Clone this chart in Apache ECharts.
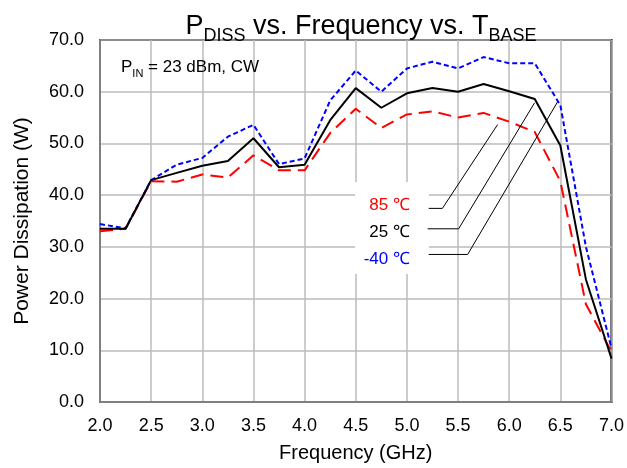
<!DOCTYPE html>
<html>
<head>
<meta charset="utf-8">
<script src="https://cdn.jsdelivr.net/npm/echarts@6/dist/echarts.min.js"></script>
<style>html,body{margin:0;padding:0;background:#fff}#c{width:627px;height:468px}</style>
</head>
<body>
<div id="c"></div>
<script>
// Frequency (GHz)
const freqs = [2.0, 2.25, 2.5, 2.75, 3.0, 3.25, 3.5, 3.75, 4.0, 4.25, 4.5, 4.75, 5.0, 5.25, 5.5, 5.75, 6.0, 6.25, 6.5, 6.75, 7.0];
// Power dissipation (W) per base temperature
const p85 = [33.0, 33.5, 42.7, 42.6, 44.0, 43.4, 47.7, 44.8, 44.8, 52.0, 56.7, 53.0, 55.6, 56.2, 55.0, 55.9, 54.2, 52.2, 42.7, 18.9, 9.7];
const p25 = [33.5, 33.5, 42.9, 44.3, 45.7, 46.6, 51.0, 45.4, 45.9, 54.5, 60.7, 56.9, 59.7, 60.7, 60.0, 61.5, 60.1, 58.6, 49.6, 23.7, 8.4];
const pm40 = [34.4, 33.6, 42.9, 45.9, 47.2, 51.3, 53.6, 46.0, 47.1, 58.3, 64.1, 60.0, 64.5, 65.8, 64.5, 66.7, 65.5, 65.5, 57.4, 30.0, 10.4];
const seriesNames = ['85 ℃', '25 ℃', '-40 ℃'];
const yTicks = [0, 10, 20, 30, 40, 50, 60, 70];
const xTicks = [2.0, 2.5, 3.0, 3.5, 4.0, 4.5, 5.0, 5.5, 6.0, 6.5, 7.0];

// annotation leader lines (data coordinates)
const leaders = [
  [[5.213, 37.44], [5.347, 37.44], [5.887, 53.65]],
  [[5.203, 33.49], [5.506, 33.49], [6.248, 57.85]],
  [[5.213, 28.53], [5.594, 28.53], [6.473, 58.04]]
];

const pairs = arr => freqs.map((f, i) => [f, arr[i]]);
const FONT = '"Liberation Sans", Arial, Helvetica, sans-serif';

const chart = echarts.init(document.getElementById('c'));
const series = [
  { name: seriesNames[0], type: 'line', data: pairs(p85), symbol: 'none', z: 3,
    lineStyle: { color: '#ff0000', width: 2, type: [13, 7] } },
  { name: seriesNames[1], type: 'line', data: pairs(p25), symbol: 'none', z: 4,
    lineStyle: { color: '#000000', width: 2, type: 'solid' } },
  { name: seriesNames[2], type: 'line', data: pairs(pm40), symbol: 'none', z: 3,
    lineStyle: { color: '#0000ff', width: 2, type: [5, 3] } }
];
leaders.forEach(l => series.push({
  type: 'line', data: l, symbol: 'none', silent: true, z: 5,
  lineStyle: { color: '#000', width: 1 }
}));

chart.setOption({
  animation: false,
  backgroundColor: '#fff',
  textStyle: { fontFamily: FONT },
  grid: { left: 100, right: 15, top: 40, bottom: 61, show: true, borderColor: '#000', borderWidth: 2, backgroundColor: 'transparent' },
  xAxis: {
    type: 'value', min: 2, max: 7, interval: 0.5,
    name: 'Frequency (GHz)', nameLocation: 'middle', nameGap: 41,
    nameTextStyle: { fontSize: 20, color: '#000', fontFamily: FONT },
    axisLine: { show: true, onZero: false, lineStyle: { color: '#808080', width: 2 } },
    axisTick: { show: false },
    axisLabel: { fontSize: 18, color: '#000', margin: 15, fontFamily: FONT, formatter: v => v.toFixed(1) },
    splitLine: { show: true, lineStyle: { color: '#bbbbbb', width: 1.5 } }
  },
  yAxis: {
    type: 'value', min: 0, max: 70, interval: 10,
    name: 'Power Dissipation (W)', nameLocation: 'middle', nameGap: 67,
    nameTextStyle: { fontSize: 21, color: '#000', fontFamily: FONT },
    axisLine: { show: true, lineStyle: { color: '#808080', width: 2 } },
    axisTick: { show: false },
    axisLabel: { fontSize: 18, color: '#000', margin: 16, fontFamily: FONT, formatter: v => v.toFixed(1) },
    splitLine: { show: true, lineStyle: { color: '#bbbbbb', width: 1.5 } }
  },
  title: {
    text: '{m|P}{s|DISS}{m| vs. Frequency vs. T}{s|BASE}',
    left: 356, top: 5, textAlign: 'center',
    textStyle: {
      fontWeight: 'normal',
      rich: {
        m: { fontSize: 27, fontWeight: 'normal', color: '#000', fontFamily: FONT, verticalAlign: 'bottom', lineHeight: 30 },
        s: { fontSize: 18, fontWeight: 'normal', color: '#000', fontFamily: FONT, verticalAlign: 'bottom', lineHeight: 30, padding: [0, 0, -5, 0] }
      }
    }
  },
  graphic: [
    { type: 'rect', z: 1, shape: { x: 355, y: 182, width: 74, height: 92 }, style: { fill: '#fff' } },
    { type: 'text', z: 10, x: 410, y: 205, style: { text: seriesNames[0], fill: '#ff0000', font: '17px ' + FONT, textAlign: 'right', textVerticalAlign: 'middle' } },
    { type: 'text', z: 10, x: 410, y: 232, style: { text: seriesNames[1], fill: '#000000', font: '17px ' + FONT, textAlign: 'right', textVerticalAlign: 'middle' } },
    { type: 'text', z: 10, x: 410, y: 259, style: { text: seriesNames[2], fill: '#0000ff', font: '17px ' + FONT, textAlign: 'right', textVerticalAlign: 'middle' } },
    { type: 'text', z: 10, x: 121, y: 56, style: {
        text: '{m|P}{s|IN}{m| = 23 dBm, CW}',
        rich: {
          m: { fontSize: 17, fill: '#000', fontFamily: FONT, verticalAlign: 'bottom', lineHeight: 20 },
          s: { fontSize: 11, fill: '#000', fontFamily: FONT, verticalAlign: 'bottom', lineHeight: 20, padding: [0, 0, -3, 0] }
        } } }
  ],
  series: series
});
</script>
</body>
</html>
